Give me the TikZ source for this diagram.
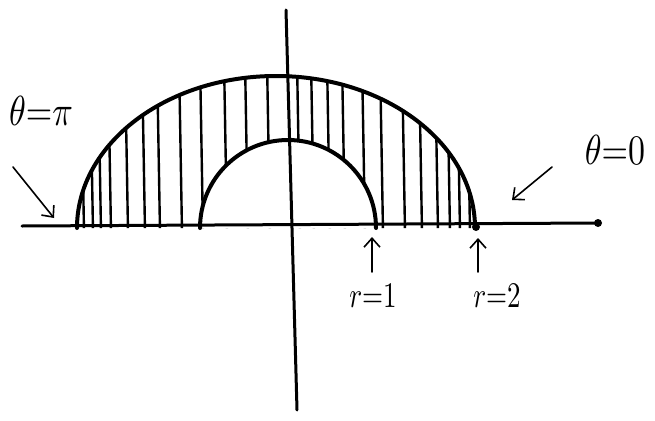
\documentclass[tikz,border=0pt]{standalone}
\usetikzlibrary{arrows.meta}
\begin{document}
\begin{tikzpicture}[x=1pt,y=-1pt,
  axis/.style={line width=3pt, line cap=round},
  bound/.style={line width=4pt, line cap=round},
  hatch/.style={line width=2.4pt},
  pointer/.style={line width=1.6pt, line cap=round, -{Straight Barb[length=9pt,width=16pt,line width=1.6pt]}},
  lbl/.style={inner sep=0pt}]
\useasboundingbox (0,0) rectangle (655,420);
% axes
\coordinate (xl) at (22,226);
\coordinate (xr) at (598,223);
\coordinate (yt) at (286,10);
\coordinate (yb) at (297,410);
\draw[axis] (xl) -- (xr);
\draw[axis] (yt) -- (yb);
\fill (xr) circle (4);
% hatching between the two half-ellipses
\begin{scope}[even odd rule]
  \clip (77,228) arc[start angle=180,end angle=360,x radius=199,y radius=152] -- cycle
        (200,228) arc[start angle=180,end angle=360,x radius=88,y radius=88] -- cycle;
  \foreach \x in {84,93,101,111,128,145,160,182,203,227,248,270,300,314,330,345,365,383,405,422,438,450,460,470}
    \draw[hatch] (\x-3,60) -- (\x,232);
\end{scope}
% boundaries
\coordinate (outerL) at (77,228);
\coordinate (innerL) at (200,228);
\draw[bound] (outerL) arc[start angle=180,end angle=360,x radius=199,y radius=152];
\draw[bound] (innerL) arc[start angle=180,end angle=360,x radius=88,y radius=88];
\fill (476,227) circle (4);
% labels
\node[lbl] (tpi) at (41,111) {\scalebox{3.4}[4.2]{$\theta{=}\pi$}};
\node[lbl] (tzero) at (615,150) {\scalebox{3.4}[4.2]{$\theta{=}0$}};
\node[lbl] (rone) at (373,296) {\scalebox{2.7}[3.6]{$r{=}1$}};
\node[lbl] (rtwo) at (497,296) {\scalebox{2.7}[3.6]{$r{=}2$}};
% pointers
\coordinate (pitail) at (13,167);
\coordinate (pihead) at (54,218);
\coordinate (zerotail) at (552,167);
\coordinate (zerohead) at (512,200);
\coordinate (r1tail) at (372,272);
\coordinate (r1head) at (372,237);
\coordinate (r2tail) at (478,272);
\coordinate (r2head) at (478,238);
\draw[pointer] (pitail) -- (pihead);
\draw[pointer] (zerotail) -- (zerohead);
\draw[pointer] (r1tail) -- (r1head);
\draw[pointer] (r2tail) -- (r2head);
\end{tikzpicture}
\end{document}
